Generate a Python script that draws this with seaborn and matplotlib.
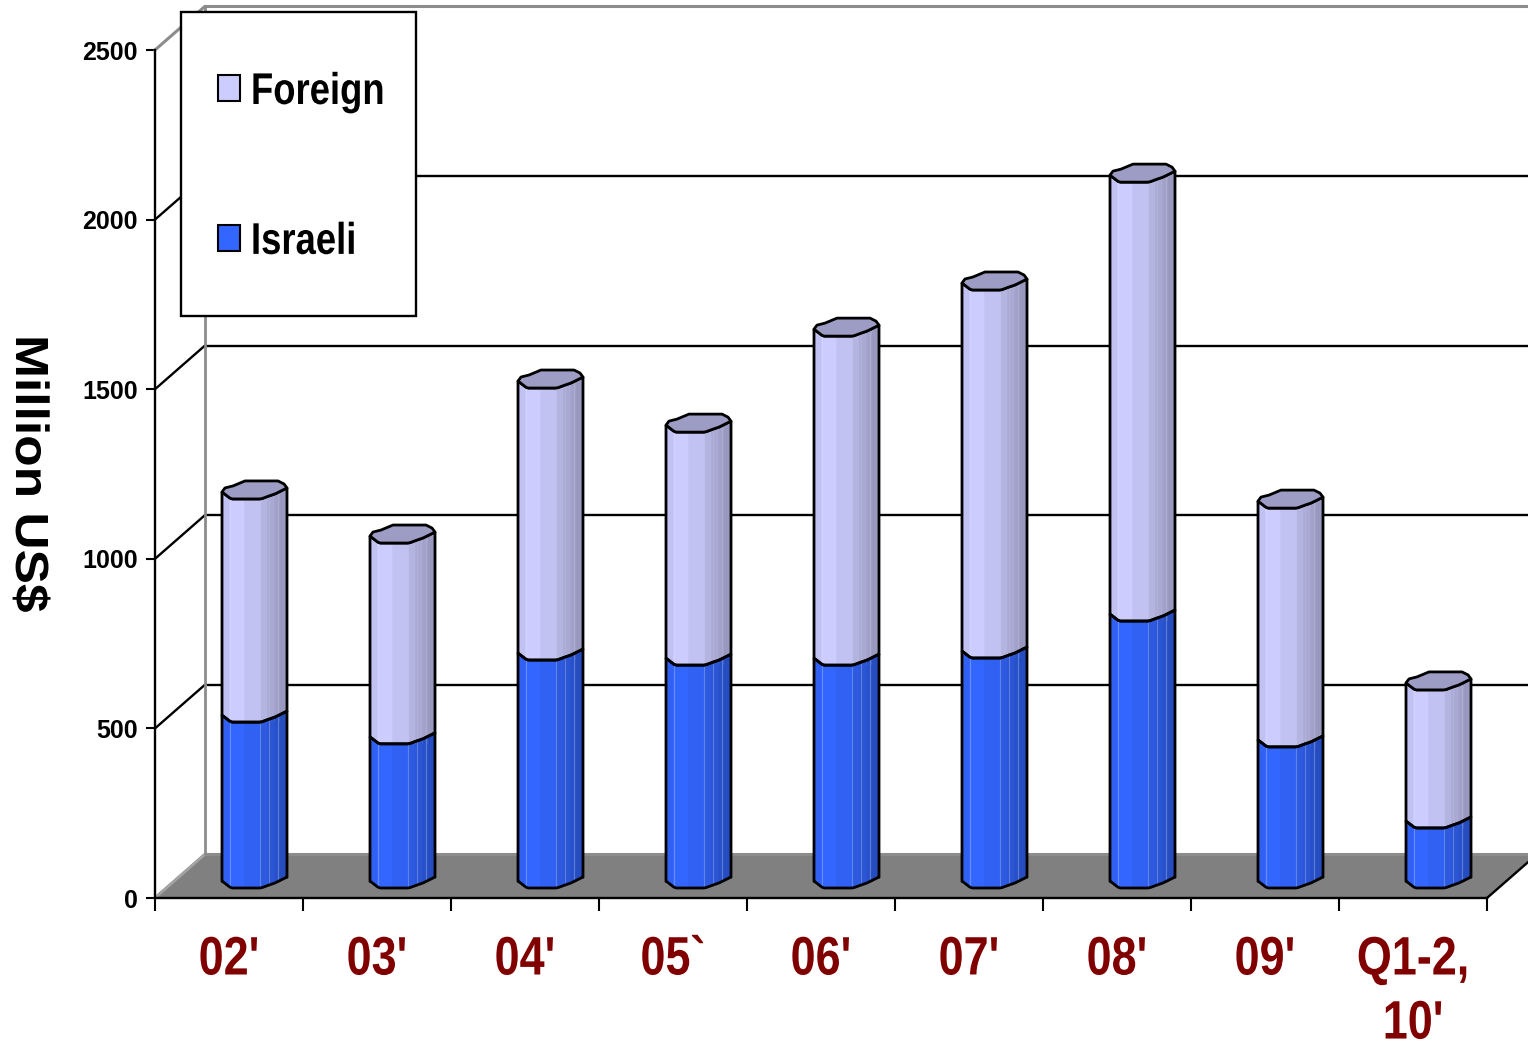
import numpy as np
import pandas as pd
import matplotlib
matplotlib.use("Agg")
import matplotlib.pyplot as plt
from matplotlib.patches import Patch, Polygon, Rectangle
from matplotlib.patheffects import AbstractPathEffect
from matplotlib.transforms import Affine2D
import seaborn as sns

## data
periods = ["02'", "03'", "04'", "05`", "06'", "07'", "08'", "09'", "Q1-2,\n10'"]
israeli = [489, 425, 672, 657, 657, 678, 787, 416, 177]
foreign = [658, 592, 802, 687, 970, 1085, 1294, 704, 407]
y_ticks = [0, 500, 1000, 1500, 2000, 2500]

df = pd.DataFrame({"period": periods, "Israeli": israeli, "Foreign": foreign})
df["Total"] = df["Israeli"] + df["Foreign"]

## look of the fake 3d
FOREIGN_COL = np.array([204, 204, 255]) / 255
ISRAELI_COL = np.array([51, 102, 255]) / 255
LID_COL = "#9c9cc4"
FLOOR_COL = "#808080"
WALL_COL = "#8c8c8c"
LW = 1.7

sns.set_theme(style="white")
plt.rcParams["font.family"] = ["Liberation Sans"]


class Squeeze(AbstractPathEffect):
    # the reference text is stretched, no narrow font here so scale the glyph path
    def __init__(self, sx=1.0, sy=1.0, anchor="center"):
        super().__init__()
        self.sx, self.sy, self.anchor = sx, sy, anchor

    def draw_path(self, renderer, gc, tpath, affine, rgbFace=None):
        box = tpath.get_extents()
        cx = box.x0 if self.anchor == "left" else (box.x0 + box.x1) / 2
        cy = (box.y0 + box.y1) / 2
        tr = Affine2D().translate(-cx, -cy).scale(self.sx, self.sy).translate(cx, cy)
        renderer.draw_path(gc, tpath, tr + affine, rgbFace)


W, H = 1528, 1042
fig = plt.figure(figsize=(W / 100, H / 100), dpi=100)
ax = fig.add_axes([155 / W, (H - 898) / H, 1332 / W, 848 / H])

# pixels -> data units on this axes
PX_X = 1 / 148
PX_Y = 2500 / 848
DEPTH_X = 50 * PX_X
DEPTH_Y = 43.7 * PX_Y
BAR_DX = 25.5 * PX_X
BAR_LIFT = 10 * PX_Y
BAR_W = 65 * PX_X

## bars
sns.barplot(data=df, x="period", y="Total", color=FOREIGN_COL, saturation=1,
            width=BAR_W, ax=ax, zorder=3)
sns.barplot(data=df, x="period", y="Israeli", color=ISRAELI_COL, saturation=1,
            width=BAR_W, ax=ax, zorder=3)
total_bars = ax.patches[:len(df)]
israeli_bars = ax.patches[len(df):]

# cross section of the column, px from left edge / px above the low point
prof_x = [0, 9, 39, 47, 53, 57, 65]
prof_y = [7, 0, 0, 3, 5, 7, 11]
back_x = [0, 3, 11, 23, 56, 62, 65]
back_y = [7, 11, 13, 18, 18, 15, 11]
band_edges = [0, 7, 22, 38, 45, 52, 57, 65]
band_shade = [0.95, 1.0, 0.95, 0.88, 0.83, 0.79, 0.75]
glint_x = [8, 38, 47, 56]


def front(level):
    px = np.arange(0, 65.5, 0.5)
    py = np.interp(px, prof_x, prof_y)
    soft = np.convolve(np.pad(py, 4, mode="edge"), np.ones(9) / 9, mode="valid")
    return px, level + soft * PX_Y


def draw_segment(left, low, high, col, glint=0.0):
    px, lo = front(low)
    _, hi = front(high)
    x = left + px * PX_X
    for a, b, s in zip(band_edges[:-1], band_edges[1:], band_shade):
        m = (px >= a) & (px <= b)
        ax.fill_between(x[m], lo[m], hi[m], color=col * s, lw=0.3,
                        zorder=3.1, clip_on=False)
    for g in glint_x:
        gy = np.interp(g, prof_x, prof_y) * PX_Y
        ax.plot([left + g * PX_X] * 2, [low + gy, high + gy], color="white",
                alpha=glint, lw=0.8, zorder=3.2, clip_on=False)
    outline = np.vstack([np.c_[x, lo], np.c_[x[::-1], hi[::-1]]])
    ax.add_patch(Polygon(outline, closed=True, fc="none", ec="black", lw=LW + 0.3,
                         zorder=3.3, clip_on=False, joinstyle="round"))
    return outline


for top_bar, low_bar in zip(total_bars, israeli_bars):
    left = top_bar.get_x() + BAR_DX
    top = top_bar.get_height() + BAR_LIFT
    mid = low_bar.get_height() + BAR_LIFT
    top_shape = draw_segment(left, mid, top, FOREIGN_COL, 0.12)
    lid_x = left + np.array(back_x) * PX_X
    lid_y = top + np.array(back_y) * PX_Y
    px, hi = front(top)
    lid = np.vstack([np.c_[left + px * PX_X, hi], np.c_[lid_x[::-1], lid_y[::-1]]])
    ax.add_patch(Polygon(lid, closed=True, fc=LID_COL, ec="black", lw=LW + 0.3,
                         zorder=3.3, clip_on=False, joinstyle="round"))
    low_shape = draw_segment(left, BAR_LIFT, mid, ISRAELI_COL, 0.25)
    for bar, seg_low, seg_top, shape in ((top_bar, mid, top, top_shape),
                                         (low_bar, BAR_LIFT, mid, low_shape)):
        bar.set_x(left)
        bar.set_y(seg_low)
        bar.set_height(seg_top - seg_low)
        bar.set_linewidth(0)
        # the flat seaborn bar stays as base colour, cut to the column shape
        bar.set_clip_path(Polygon(shape, closed=True, transform=ax.transData))

## walls, floor and grid
x_lo, x_hi = -0.5, 8.5
ax.add_patch(Polygon([(x_lo, 0), (x_lo + DEPTH_X, DEPTH_Y),
                      (x_hi + DEPTH_X, DEPTH_Y), (x_hi, 0)],
                     closed=True, fc=FLOOR_COL, ec="none", zorder=1, clip_on=False))
ax.plot([x_lo, x_lo + DEPTH_X], [0, DEPTH_Y], color="#a6a6a6", lw=1.5, zorder=1.2, clip_on=False)
ax.plot([x_hi, x_hi + DEPTH_X], [0, DEPTH_Y], color="black", lw=LW, zorder=1.2, clip_on=False)
ax.plot([x_lo + DEPTH_X] * 2, [0 + DEPTH_Y, 2500 + DEPTH_Y], color=WALL_COL, lw=2.0,
        zorder=1.3, clip_on=False)
for v in y_ticks:
    inner = 0 < v < 2500
    col = "black" if inner else WALL_COL
    lw = LW if inner else 2.2
    ax.plot([x_lo, x_lo + DEPTH_X], [v, v + DEPTH_Y], color=col, lw=lw, zorder=1.1, clip_on=False)
    ax.plot([x_lo + DEPTH_X, x_hi + DEPTH_X], [v + DEPTH_Y] * 2, color=col, lw=lw,
            zorder=1.1, clip_on=False)

## axes
ax.set_xlim(x_lo, x_hi)
ax.set_ylim(0, 2500)
ax.set_yticks(y_ticks)
ax.set_xticks(np.arange(x_lo, x_hi + 0.5), minor=True)
sns.despine(ax=ax, top=True, right=True)
for side in ("left", "bottom"):
    ax.spines[side].set_color("black")
    ax.spines[side].set_linewidth(LW)
    ax.spines[side].set_zorder(2)
ax.patch.set_alpha(0)
ax.tick_params(axis="x", which="major", length=0, pad=27, labelcolor="#800000")
ax.tick_params(axis="x", which="minor", bottom=True, length=9.5, width=1.5, color="black")
ax.tick_params(axis="y", left=True, length=6.5, width=1.5, color="black", pad=6)
for t in ax.get_xticklabels():
    t.set_fontsize(39)
    t.set_fontweight("bold")
    t.set_linespacing(1.36)
    t.set_path_effects([Squeeze(sx=0.83)])
for t in ax.get_yticklabels():
    t.set_fontsize(18)
    t.set_fontweight("bold")
    t.set_color("black")
ax.set_xlabel("")
ylab = ax.set_ylabel("Million US$", rotation=270, fontsize=36, fontweight="bold",
                     color="black", labelpad=39, va="center")
ylab.set_path_effects([Squeeze(sx=1.03, sy=0.93)])

## legend box
ax.add_patch(Rectangle((x_lo + 26 * PX_X, (898 - 316) * PX_Y), 235 * PX_X, 304 * PX_Y,
                       fc="white", ec="black", lw=LW, zorder=5, clip_on=False))
handles = [Patch(fc=FOREIGN_COL, ec="black", lw=1.5, label="Foreign"),
           Patch(fc=ISRAELI_COL, ec="black", lw=1.5, label="Israeli")]
leg = ax.legend(handles=handles, loc="upper left", frameon=False, borderpad=0, borderaxespad=0,
                bbox_to_anchor=(x_lo + 63 * PX_X, (898 - 72) * PX_Y), bbox_transform=ax.transData,
                handlelength=0.5, handleheight=0.52, handletextpad=0.23, labelspacing=2.45,
                labelcolor="black", prop={"weight": "bold", "size": 32})
leg.set_zorder(6)
for t in leg.get_texts():
    t.set_path_effects([Squeeze(sx=0.82, anchor="left")])

fig.savefig("out.png", dpi=100)
